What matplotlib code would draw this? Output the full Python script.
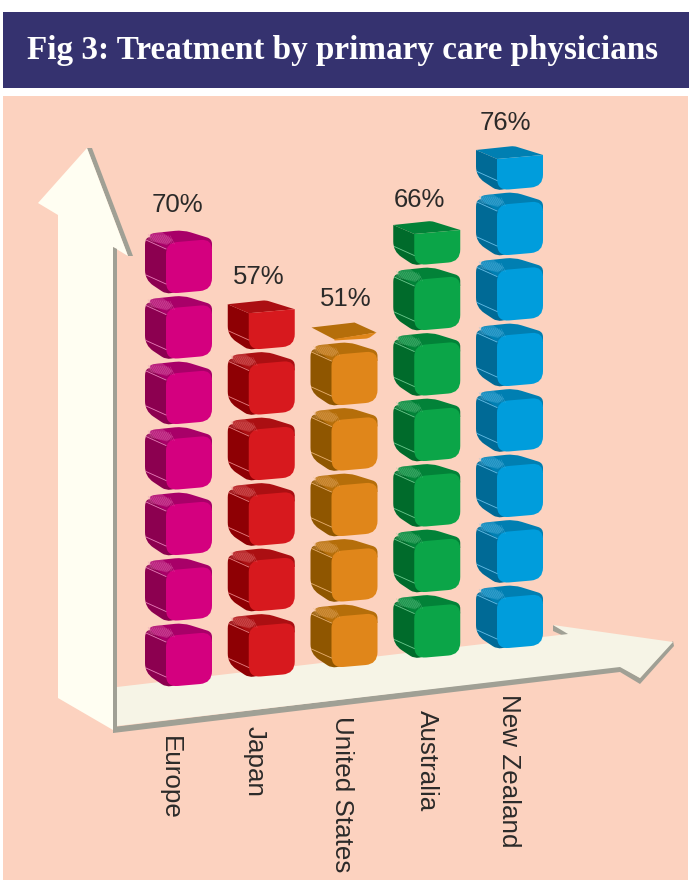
import matplotlib
matplotlib.use("Agg")
import matplotlib.pyplot as plt
from matplotlib.path import Path
from matplotlib.patches import PathPatch, Polygon, Rectangle

# ---- data ----
countries = ["Europe", "Japan", "United States", "Australia", "New Zealand"]
values = [70, 57, 51, 66, 76]
units_per_cube = 10
front_colors = ["#D4007F", "#D7191E", "#E0861A", "#0BA548", "#009DDC"]
side_colors = ["#8C0050", "#8E0004", "#8F5600", "#006B2B", "#006A96"]
top_colors = ["#A80068", "#AB0F12", "#B56E0A", "#028238", "#007FB2"]
line_colors = ["#E77DB8", "#E87F80", "#E8B070", "#6CC98E", "#66BDE6"]
title = "Fig 3: Treatment by primary care physicians"

# ---- layout (pixels) ----
W, H = 691, 883
COL_X0, COL_DX = 145.0, 82.75
BASE_Y0, COL_DY = 687.0, -9.5
PITCH = 65.5
FULL_H = 51.0
BG = "#FCD2BF"
NAVY = "#35326F"
CREAM_V = "#FFFEF2"
CREAM_H = "#F6F4E6"
GREY = "#A0A095"
INK = "#2B2A29"
SANS = "Liberation Sans"
SERIF = "Liberation Serif"
PCT_X = [177, 259, 346, 419, 505]
PCT_Y = [205, 277, 299, 200, 123]
NAME_X = [170, 255, 342, 427, 509]
NAME_TOP = [736, 726, 716, 710, 694]

fig = plt.figure(figsize=(W / 100, H / 100), dpi=100, facecolor="white")
ax = fig.add_axes([0, 0, 1, 1])
ax.set_xlim(0, W)
ax.set_ylim(H, 0)
ax.axis("off")


def rounded(pts, radii):
    """Closed path through pts with a quadratic rounding at each corner."""
    n = len(pts)
    verts, codes = [], []
    for i in range(n):
        p = pts[i]
        a = pts[i - 1]
        b = pts[(i + 1) % n]
        r = radii[i]
        da = ((a[0] - p[0]) ** 2 + (a[1] - p[1]) ** 2) ** 0.5
        db = ((b[0] - p[0]) ** 2 + (b[1] - p[1]) ** 2) ** 0.5
        r = min(r, da * 0.5, db * 0.5)
        s = (p[0] + (a[0] - p[0]) * r / max(da, 1e-6), p[1] + (a[1] - p[1]) * r / max(da, 1e-6))
        e = (p[0] + (b[0] - p[0]) * r / max(db, 1e-6), p[1] + (b[1] - p[1]) * r / max(db, 1e-6))
        verts.append(s)
        codes.append(Path.MOVETO if i == 0 else Path.LINETO)
        verts.extend([p, e])
        codes.extend([Path.CURVE3, Path.CURVE3])
    verts.append(verts[0])
    codes.append(Path.CLOSEPOLY)
    return Path(verts, codes)


def plate(l, b, fc, tc):
    """A very thin remainder: almost only the top surface is visible."""
    ax.add_patch(Polygon([(l + 1, b - 13), (l + 44, b - 18), (l + 66, b - 8), (l + 24, b - 1)], fc=tc, ec="none"))
    ax.add_patch(PathPatch(rounded([(l + 24, b - 1.5), (l + 66, b - 8), (l + 58, b - 2), (l + 24, b)], [0, 0, 3, 0]),
                           fc=fc, ec="none"))


def cube(l, b, frac, fc, sc, tc, lc):
    if frac < 0.2:
        plate(l, b, fc, tc)
        return
    full = frac >= 1
    h = FULL_H if full else FULL_H * frac * 1.03
    r = 12
    rt = 11 if full else 0
    # left side, running on behind the rounded front corners
    side = [(l, b - 14), (l, b - h - 9), (l + 21, b - h), (l + 32, b - h), (l + 32, b - 2), (l + 21, b)]
    ax.add_patch(PathPatch(rounded(side, [10, rt, 0, 0, 0, 5]), fc=sc, ec="none"))
    # top
    if full:
        top = [(l, b - h - 9), (l + 38, b - h - 13), (l + 67, b - h - 4), (l + 67, b - h + 6), (l + 21, b - h + 6)]
        rad = [rt, 8, 8, 0, 0]
    else:
        top = [(l, b - h - 9), (l + 38, b - h - 13), (l + 67, b - h - 4), (l + 21, b - h)]
        rad = [0, 3, 0, 0]
    ax.add_patch(PathPatch(rounded(top, rad), fc=tc, ec="none"))
    if full:
        # fine hatching on the rounded edge of the top
        ax.add_patch(Polygon([(l + 2, b - 54), (l + 5, b - 60), (l + 17, b - 62), (l + 28, b - 54), (l + 22, b - 49)],
                             fc=lc, alpha=0.28, ec="none"))
        for k in range(12):
            x = l + 3 + k * 2.0
            ax.plot([x, x + 4.5], [b - 60 + k * 0.15, b - 52 + k * 0.2], color=lc, lw=0.35, alpha=0.5,
                    solid_capstyle="butt")
        ax.plot([l + 1, l + 21], [b - 54, b - 45], color=lc, lw=0.6)
    ax.plot([l + 1, l + 21], [b - 19, b - 10], color=lc, lw=0.6)
    # front
    front = [(l + 21, b), (l + 67, b - 4), (l + 67, b - 4 - h), (l + 21, b - h)]
    ax.add_patch(PathPatch(rounded(front, [r, r, rt, rt]), fc=fc, ec="none"))


# ---- panels ----
ax.add_patch(Rectangle((3, 96), 685, 784, fc=BG, ec="none"))
ax.add_patch(Rectangle((3, 12), 686, 76, fc=NAVY, ec="none"))
ax.text(342.5, 51, title, color="white", fontsize=23.9, family=SERIF, weight="bold",
        ha="center", va="center")

# ---- axes arrows ----
ax.add_patch(Polygon([(87, 148), (92, 148), (133, 256), (128, 256)], fc=GREY, ec="none"))
ax.add_patch(Polygon([(87, 148), (38, 203), (58, 215), (58, 698), (113, 730), (113, 247), (128, 256)],
                     fc=CREAM_V, ec="none"))
ax.add_patch(Polygon([(113, 247), (117, 249), (117, 730), (113, 733)], fc=GREY, ec="none"))
ax.add_patch(Polygon([(113, 733), (113, 727), (620, 666), (640, 678), (673, 641), (674, 646),
                      (640, 684), (620, 672)], fc=GREY, ec="none"))
ax.add_patch(Polygon([(553, 625), (553, 631), (566, 637), (572, 634)], fc=GREY, ec="none"))
ax.add_patch(Polygon([(117, 687), (568, 634), (553, 625), (673, 642), (640, 678), (620, 667), (117, 726)],
                     fc=CREAM_H, ec="none"))

# ---- cubes and labels ----
for i, (name, val) in enumerate(zip(countries, values)):
    l = COL_X0 + COL_DX * i
    b0 = BASE_Y0 + COL_DY * i
    n_full = val // units_per_cube
    rest = (val % units_per_cube) / units_per_cube
    for k in range(n_full):
        cube(l, b0 - PITCH * k, 1, front_colors[i], side_colors[i], top_colors[i], line_colors[i])
    if rest > 0:
        cube(l, b0 - PITCH * n_full, rest, front_colors[i], side_colors[i], top_colors[i], line_colors[i])
    ax.text(PCT_X[i], PCT_Y[i], f"{val}%", color=INK, fontsize=18.5, family=SANS, ha="center", va="center")
    ax.text(NAME_X[i], NAME_TOP[i], name, color=INK, fontsize=18.7, family=SANS, rotation=270,
            ha="center", va="top")

fig.savefig("out.png", dpi=100, facecolor="white")
